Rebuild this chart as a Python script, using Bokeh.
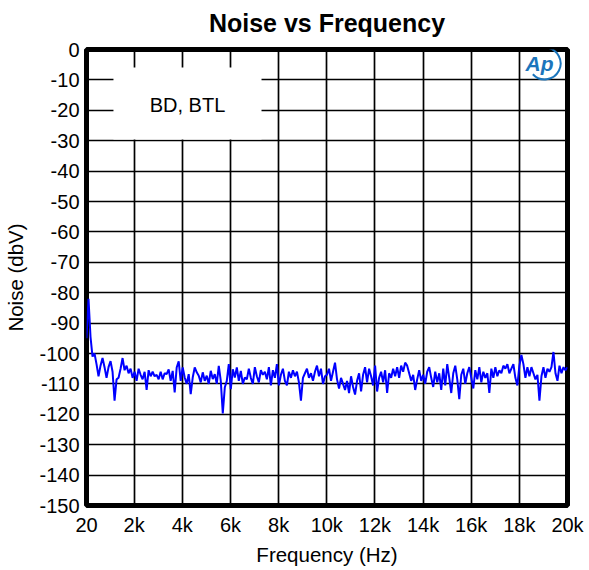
import numpy as np
from bokeh.plotting import figure
from bokeh.models import Range1d, FixedTicker, BoxAnnotation, Label, Title
from bokeh.embed import file_html
from bokeh.resources import INLINE

# ---- data ----
x_ticks = [20, 2000, 4000, 6000, 8000, 10000, 12000, 14000, 16000, 18000, 20000]
x_tick_labels = ["20", "2k", "4k", "6k", "8k", "10k", "12k", "14k", "16k", "18k", "20k"]
y_ticks = [0, -10, -20, -30, -40, -50, -60, -70, -80, -90, -100, -110, -120, -130, -140, -150]
y_tick_labels = ["0", "-10", "-20", "-30", "-40", "-50", "-60", "-70", "-80", "-90",
                 "-100", "-110", "-120", "-130", "-140", "-150"]

noise_a = [-95, -82, -94.5, -101, -100, -103.5, -107.5, -104, -101.5, -104.5,
           -108, -104.5, -102.5, -106, -115.5, -108.5, -108, -105, -101.5, -105.5,
           -104, -106.5, -105, -108, -106, -109, -105, -107, -108.5, -106,
           -112, -105.5, -107.5, -106, -107.5, -107, -108.5, -106, -108.5, -106.5]
noise_b = [-106.8, -105.2, -109, -105.7, -112.8, -104.6, -102.6, -109, -104.6, -107.9,
           -110, -106.8, -113.4, -107.9, -104.6, -106.2, -107.3, -109.5, -106.2, -109,
           -107.3, -110, -105.7, -108.4, -106.8, -110, -104.1, -109, -119.7, -111.2,
           -109, -103.5, -111.7, -105.2, -107.9, -104.6, -109, -105.7, -110, -107.9]
noise_c = [-108.5, -105, -108, -110, -104.5, -107.5, -109.5, -105.5, -107, -106,
           -108.5, -104.5, -110.5, -105.5, -108, -103.5, -110.5, -107, -105, -109,
           -110.5, -106, -108, -105.5, -107.5, -106, -109.5, -115.5, -108, -106.5,
           -105, -108, -106.5, -109, -106, -104, -107.5, -105, -110, -107.5]
noise_d = [-107, -105, -109, -106, -103, -108.5, -111.5, -108, -110, -112,
           -109, -113, -107.5, -111, -113.5, -109, -106.5, -112.5, -107, -104.5,
           -109.5, -105, -107.5, -110.5, -104, -112.5, -108, -106, -109.5, -105.5,
           -113, -106.5, -108, -105, -107.5, -104.5, -108, -104, -106, -103]
noise_e = [-104, -106.5, -109, -107, -112, -108.5, -105.5, -109, -107, -110,
           -106, -104.5, -108, -111, -106, -109.5, -106.5, -112, -105, -110.5,
           -103.5, -108, -113, -106.5, -104, -108.5, -115, -107, -105, -110,
           -106.5, -104.5, -108, -111.5, -105.5, -108.5, -104.5, -109.5, -106, -108]
noise_f = [-106.5, -113, -105, -108, -104.5, -107.5, -105.5, -106.5, -104, -105,
           -103.5, -106.5, -105, -103.5, -108, -110.5, -104, -100.5, -103.5, -108,
           -104.5, -107.5, -104.5, -106.5, -108.5, -107, -115.5, -107.5, -104.5, -108,
           -105, -106, -104.5, -99.5, -106.5, -109, -104, -106.5, -104.5, -105.5, -104.5]

noise_dbv = noise_a + noise_b + noise_c + noise_d + noise_e + noise_f
freq_hz = np.linspace(20, 20000, len(noise_dbv))  # FFT bin grid

title_text = "Noise vs Frequency"
FONT = "Liberation Sans"

p = figure(width=589, height=570, output_backend="svg", toolbar_location=None,
           x_range=Range1d(20, 20000), y_range=Range1d(-150, 0),
           min_border_left=86, min_border_right=22, min_border_top=49, min_border_bottom=65,
           title=title_text)

p.title.align = "center"
p.title.vertical_align = "bottom"
p.title.standoff = 4
p.title.text_font = FONT
p.title.text_font_size = "25px"
p.title.text_font_style = "bold"
p.title.text_color = "black"

# thin empty spacer between the frame and the title
p.add_layout(Title(text=" ", text_font_size="8px", standoff=0), "above")

p.outline_line_color = "black"
p.outline_line_width = 5
p.outline_line_alpha = 1

p.xaxis.ticker = FixedTicker(ticks=x_ticks)
p.xaxis.major_label_overrides = {t: l for t, l in zip(x_ticks, x_tick_labels)}
p.yaxis.ticker = FixedTicker(ticks=y_ticks)
p.yaxis.major_label_overrides = {t: l for t, l in zip(y_ticks, y_tick_labels)}

for ax in (p.xaxis[0], p.yaxis[0]):
    ax.axis_line_color = None
    ax.major_tick_line_color = None
    ax.minor_tick_line_color = None
    ax.major_tick_in = 0
    ax.major_tick_out = 0
    ax.minor_tick_in = 0
    ax.minor_tick_out = 0
    ax.major_label_text_font = FONT
    ax.major_label_text_font_size = "20px"
    ax.major_label_text_color = "black"
    ax.axis_label_text_font = FONT
    ax.axis_label_text_font_size = "20.5px"
    ax.axis_label_text_font_style = "normal"
    ax.axis_label_text_color = "black"

p.xaxis.axis_label = "Frequency (Hz)"
p.yaxis.axis_label = "Noise (dbV)"
p.xaxis.major_label_standoff = 8
p.yaxis.major_label_standoff = 7
p.xaxis.axis_label_standoff = 4
p.yaxis.axis_label_standoff = 9

p.xgrid.ticker = FixedTicker(ticks=x_ticks)
p.ygrid.ticker = FixedTicker(ticks=y_ticks)
p.grid.grid_line_color = "black"
p.grid.grid_line_width = 1.7
p.grid.grid_line_alpha = 1

p.line(freq_hz, noise_dbv, line_color="#0000FF", line_width=2)

box = BoxAnnotation(left=1140, right=7290, top=-5.9, bottom=-29.6,
                    fill_color="white", fill_alpha=1, line_color=None)
p.add_layout(box)
p.add_layout(Label(x=4215, y=-18.3, text="BD, BTL", text_align="center", text_baseline="middle",
                   text_font=FONT, text_font_size="20px", text_color="black"))

# Ap logo
p.add_layout(Label(x=18840, y=-4.7, text="Ap", text_align="center", text_baseline="middle",
                   text_font=FONT, text_font_size="21px", text_font_style="bold italic",
                   text_color="#1B75BC"))
p.arc(x=[19050], y=[-4.6], radius=16, radius_units="screen", start_angle=-2.4, end_angle=1.45,
      line_color="#1B75BC", line_width=2)

open("out.html", "w").write(file_html(p, INLINE))
